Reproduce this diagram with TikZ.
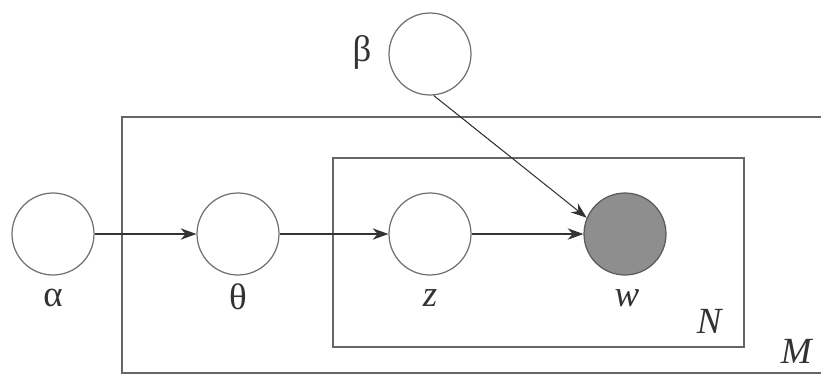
\documentclass[tikz,border=0pt]{standalone}
\usepackage{fontspec}
\setmainfont{Liberation Serif}
\usepackage{xcolor}
\usetikzlibrary{arrows.meta, positioning}
\definecolor{Plate_Gray}{HTML}{666666}
\definecolor{Node_Gray}{HTML}{707070}
\definecolor{Obs_Fill}{HTML}{8E8E8E}

\begin{document}
\begin{tikzpicture}[x=0.02cm, y=-0.02cm,
    var/.style={circle, draw=Node_Gray, line width=0.7pt, minimum size=1.64cm, inner sep=0pt},
    obs/.style={var, fill=Obs_Fill, draw=Node_Gray!80!black},
    lbl/.style={font=\fontsize{21}{25}\selectfont, text=black!80},
    plate/.style={draw=Plate_Gray, line width=0.7pt},
    arr/.style={-{Stealth[length=9pt, width=6.5pt]}, draw=black!80, line width=0.6pt}]
    \useasboundingbox (0,0) rectangle (821,376);
    % Plates
    \draw[plate] (821,117) -| (122,373) -- (821,373);
    \draw[plate] (333,158) rectangle (744,347);
    \node[lbl] (Nlbl) at (710,321) {\textit{N}};
    \node[lbl] (Mlbl) at (797,351) {\textit{M}};
    % Variables
    \node[var] (alpha) at (53,234) {};
    \node[var] (theta) at (238,234) {};
    \node[var] (z) at (430,234) {};
    \node[obs] (w) at (625,234) {};
    \node[var] (beta) at (430,54) {};
    % Names
    \node[lbl] (alphalbl) at (53,298) {α};
    \node[lbl] (thetalbl) at (238,297) {θ};
    \node[lbl] (zlbl) at (430,298) {\textit{z}};
    \node[lbl] (wlbl) at (627,298) {\textit{w}};
    \node[lbl] (betalbl) at (362,52) {β};
    % Edges
    \draw[arr] (alpha) -- (theta);
    \draw[arr] (theta) -- (z);
    \draw[arr] (z) -- (w);
    \draw[arr] (beta.-85) -- (w.157);
\end{tikzpicture}
\end{document}
